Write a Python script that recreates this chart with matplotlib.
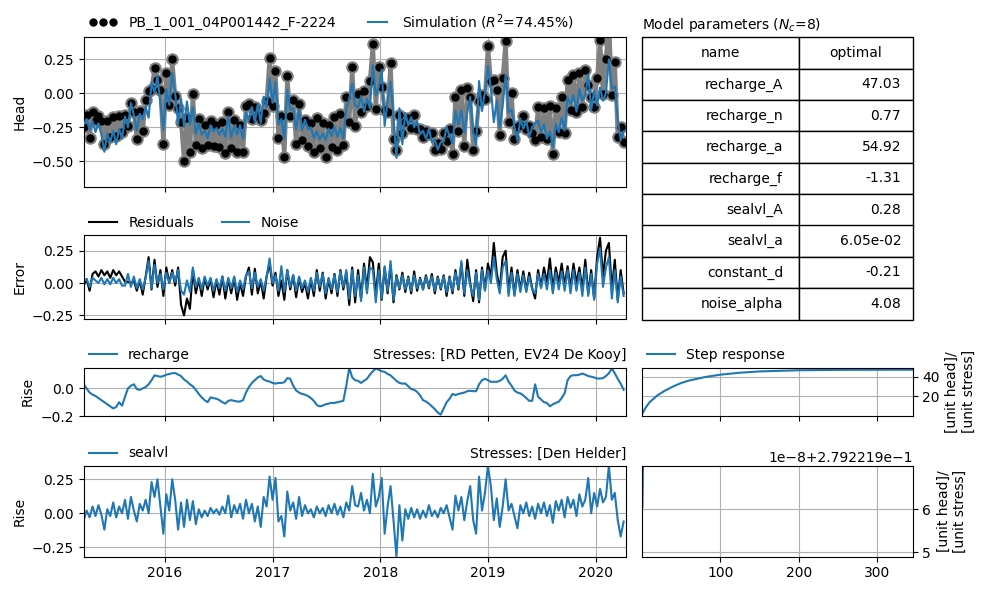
import numpy as np
import pandas as pd
import matplotlib
matplotlib.use('Agg')
import matplotlib.pyplot as plt
import matplotlib.dates as mdates
from matplotlib.ticker import MaxNLocator

# Contributions and errors, one value every 10 days from 2015-04-02
recharge = [0.03, 0.0, -0.03, -0.045, -0.055, -0.07, -0.085, -0.1, -0.115, -0.13,
            -0.145, -0.135, -0.1, -0.125, -0.06, 0.0, 0.02, 0.03, -0.005, -0.01,
            0.0, 0.01, 0.03, 0.06, 0.095, 0.09, 0.085, 0.09, 0.1, 0.105,
            0.11, 0.112, 0.1, 0.09, 0.065, 0.05, 0.03, 0.015, -0.01, -0.04,
            -0.065, -0.085, -0.1, -0.065, -0.07, -0.075, -0.085, -0.1, -0.11, -0.09,
            -0.085, -0.09, -0.095, -0.095, -0.085, -0.03, 0.01, 0.04, 0.06, 0.08,
            0.09, 0.065, 0.055, 0.05, 0.04, 0.035, 0.04, 0.04, 0.045, 0.075,
            0.07, 0.02, -0.015, -0.03, -0.04, -0.045, -0.055, -0.07, -0.09, -0.12,
            -0.13, -0.125, -0.115, -0.11, -0.105, -0.105, -0.1, -0.095, -0.09, 0.02,
            0.15, 0.08, 0.06,
            0.055, 0.04, 0.055, 0.07, 0.1, 0.125, 0.145, 0.135, 0.125, 0.12,
            0.105, 0.095, 0.075, 0.055, 0.04, 0.035, 0.036, 0.015, -0.005, -0.01,
            -0.025, -0.05, -0.085, -0.095, -0.11, -0.13, -0.15, -0.175, -0.19, -0.145,
            -0.1, -0.075, -0.04, -0.048, -0.04, -0.035, -0.03, -0.02, -0.017, -0.02,
            -0.02, 0.03, 0.06, 0.07, 0.06, 0.048, 0.048, 0.048, 0.055, 0.07,
            0.095, 0.05, 0.02, -0.015, -0.03, -0.036, -0.05, -0.07, -0.09, -0.09,
            0.03, -0.06, -0.08, -0.1, -0.105, -0.13, -0.115, -0.105, -0.096, -0.07,
            -0.035, 0.06, 0.09, 0.096, 0.096, 0.1, 0.108, 0.1, 0.09, 0.085,
            0.08, 0.072, 0.072, 0.075, 0.09, 0.11, 0.145, 0.11, 0.07, 0.035,
            -0.01]

sealvl = [-0.05, 0.02, -0.03, 0.05, -0.02, 0.06, -0.01, -0.12, 0.03, -0.02,
          0.08, -0.03, 0.05, 0.0, 0.1, -0.04, 0.12, 0.02, -0.06, 0.07,
          0.02, 0.1, 0.0, 0.23, 0.12, 0.25, 0.05, -0.15, 0.14, 0.02,
          0.25, 0.1, -0.12, 0.08, -0.1, 0.1, -0.05, 0.09, -0.08, 0.03,
          -0.03, 0.02, -0.02, 0.04, 0.0, 0.03, -0.01, 0.05, 0.0, 0.13,
          -0.03, 0.06, 0.0, 0.07, -0.04, 0.1, 0.0, 0.07, -0.06, 0.05,
          -0.1, 0.12, 0.05, 0.27, 0.1, 0.26, -0.06, -0.02, -0.17, 0.16,
          0.02, 0.08, -0.04, 0.12, -0.02, 0.06, 0.0, 0.03, -0.03, 0.05,
          0.0, 0.04, -0.02, 0.06, 0.0, 0.07, -0.01, 0.05, -0.03, 0.08,
          0.02, 0.2, 0.06,
          0.05, 0.15, 0.02, 0.1, 0.0, 0.29, 0.05, 0.12, 0.26, -0.15,
          0.05, 0.2, -0.05, -0.32, 0.06, -0.2, 0.03, -0.04, 0.04, -0.03,
          0.03, -0.04, 0.02, -0.03, 0.06, -0.02, 0.02, -0.03, 0.04, 0.0,
          0.06, -0.03, -0.12, 0.13, 0.02, 0.12, -0.05, 0.09, 0.2, -0.05,
          -0.15, 0.27, 0.02, 0.15, 0.35, 0.2, -0.05, 0.11, -0.1, 0.05,
          0.25, 0.02, 0.07, -0.02, -0.11, 0.06, 0.0, 0.08, -0.02, 0.05,
          -0.04, 0.07, 0.0, 0.08, -0.02, 0.06, -0.07, 0.09, 0.02, 0.1,
          -0.03, 0.12, 0.04, 0.1, -0.02, 0.14, 0.05, 0.1, 0.26, 0.0,
          0.15, 0.05, 0.18, 0.08, 0.12, 0.35, 0.1, 0.15, -0.05, -0.17,
          -0.06]

residuals = [-0.02, 0.03, -0.06, 0.07, 0.09, 0.05, 0.1, 0.06, 0.09, 0.04,
             0.1, 0.06, 0.09, 0.05, 0.01, 0.01, 0.0, 0.02, -0.06, 0.02,
             -0.09, 0.05, 0.2, -0.05, 0.18, -0.03, 0.1, -0.1, 0.12, 0.0,
             0.1, -0.02, 0.12, -0.17, -0.25, -0.12, -0.2, 0.1, -0.08, 0.03,
             -0.1, 0.04, -0.05, 0.03, -0.11, 0.02, -0.09, 0.05, -0.12, 0.03,
             -0.08, 0.04, -0.13, 0.0, -0.1, 0.05, 0.12, -0.09, 0.11, -0.08,
             0.02, -0.12, 0.05, 0.15, -0.02, 0.08, -0.1, 0.02, -0.13, 0.1,
             -0.05, 0.06, -0.11, 0.04, -0.07, 0.0, -0.12, 0.03, -0.1, 0.1,
             -0.06, 0.08, -0.12, 0.03, -0.08, 0.07, -0.1, 0.1, -0.05, 0.08,
             -0.17, 0.12, -0.15,
             0.1, -0.12, 0.15, -0.05, 0.2, 0.16, -0.1, 0.15, -0.13, 0.12,
             -0.08, 0.14, -0.15, 0.06, -0.05, 0.08, -0.07, 0.05, -0.08, 0.09,
             -0.06, 0.04, -0.05, 0.06, -0.04, 0.07, -0.08, 0.05, -0.05, 0.06,
             -0.1, 0.05, -0.08, 0.1, -0.05, 0.15, -0.1, 0.18, 0.0, -0.14,
             0.1, -0.15, 0.12, -0.05, 0.15, 0.05, 0.31, 0.08, -0.05, 0.2,
             0.25, -0.07, 0.12, -0.09, 0.1, -0.05, 0.09, -0.06, 0.08, -0.04,
             -0.12, 0.1, -0.03, 0.12, 0.0, 0.19, -0.05, 0.12, 0.0, 0.15,
             -0.02, 0.13, -0.04, 0.15, 0.0, 0.12, -0.05, 0.18, -0.08, 0.1,
             -0.12, 0.2, 0.35, 0.05, 0.25, 0.31, -0.05, 0.18, -0.13, 0.1,
             -0.08]

noise = [0.01, 0.03, -0.03, 0.04, 0.02, 0.0, 0.04, -0.01, 0.03, -0.01,
         0.04, 0.0, 0.03, -0.02, -0.02, 0.07, -0.03, 0.05, -0.04, 0.03,
         -0.05, 0.04, 0.17, -0.04, 0.14, 0.0, 0.07, -0.05, 0.08, 0.0,
         0.08, 0.01, 0.1, -0.06, -0.09, 0.02, -0.07, 0.12, -0.03, 0.04,
         -0.05, 0.05, -0.02, 0.04, -0.06, 0.03, -0.04, 0.05, -0.06, 0.04,
         -0.04, 0.05, -0.07, 0.02, -0.05, 0.06, 0.09, -0.04, 0.08, -0.03,
         0.03, -0.06, 0.05, 0.19, 0.0, 0.06, -0.06, 0.13, -0.07, 0.1,
         -0.03, 0.06, -0.06, 0.05, -0.04, 0.02, -0.07, 0.04, -0.06, 0.08,
         -0.03, 0.07, -0.08, 0.04, -0.05, 0.06, -0.07, 0.09, -0.03, 0.1,
         -0.12, 0.1, -0.1,
         0.06, -0.14, 0.12, -0.08, 0.12, 0.1, -0.15, 0.1, -0.12, 0.13,
         -0.06, 0.17, -0.13, 0.05, -0.04, 0.06, -0.05, 0.04, -0.06, 0.06,
         -0.04, 0.03, -0.05, 0.05, -0.03, 0.05, -0.06, 0.04, -0.04, 0.05,
         -0.07, 0.04, -0.06, 0.08, -0.04, 0.17, -0.08, 0.1, -0.02, -0.1,
         0.08, -0.13, 0.1, -0.06, 0.1, 0.0, 0.2, 0.03, -0.08, 0.12,
         0.17, -0.1, 0.08, -0.1, 0.07, -0.07, 0.06, -0.07, 0.05, -0.05,
         -0.08, 0.07, -0.04, 0.07, -0.05, 0.1, -0.08, 0.08, -0.05, 0.09,
         -0.06, 0.1, -0.08, 0.1, -0.06, 0.08, -0.1, 0.12, -0.1, 0.07,
         -0.13, 0.15, 0.27, -0.03, 0.12, 0.2, -0.12, 0.1, -0.15, 0.05,
         -0.1]

constant_d = -0.21
obs_name = 'PB_1_001_04P001442_F-2224'
r2 = 74.45

# Parameter table
param_names = ['recharge_A', 'recharge_n', 'recharge_a', 'recharge_f',
               'sealvl_A', 'sealvl_a', 'constant_d', 'noise_alpha']
param_values = ['47.03', '0.77', '54.92', '-1.31', '0.28', '6.05e-02', '-0.21', '4.08']

# Step responses
step_t = [1, 5, 10, 20, 30, 40, 50, 60, 80, 100, 125, 150, 200, 250, 300, 345]
step_rch = [2.8, 8.5, 14.0, 21.0, 26.0, 30.0, 33.5, 36.0, 39.5, 42.0, 44.0, 45.3,
            46.5, 46.9, 47.0, 47.03]
sl_base = 0.2792219
step_t_sl = [1, 2, 345]
step_sl = [sl_base + 6.05e-8, sl_base + 7.6e-8, sl_base + 7.6e-8]

dates = pd.date_range('2015-04-02', periods=len(recharge), freq='10D')
rch = np.array(recharge)
sl = np.array(sealvl)
res = np.array(residuals)
sim = rch + sl + constant_d
obs = sim + res

fig = plt.figure(figsize=(9.9, 5.9), dpi=100)
W, H = 990, 590


def rect(x0, y0, x1, y1):
    return [x0 / W, 1 - y1 / H, (x1 - x0) / W, (y1 - y0) / H]


ax1 = fig.add_axes(rect(83.7, 37.3, 626.3, 186.7))
ax2 = fig.add_axes(rect(83.7, 235.3, 626.3, 318.7), sharex=ax1)
ax3 = fig.add_axes(rect(83.7, 367.5, 626.3, 416), sharex=ax1)
ax4 = fig.add_axes(rect(83.7, 466, 626.3, 556.7), sharex=ax1)
axt = fig.add_axes(rect(641.7, 37.5, 912.5, 319.5))
ax5 = fig.add_axes(rect(641.7, 367.5, 912.5, 416))
ax6 = fig.add_axes(rect(641.7, 466, 912.5, 556.7), sharex=ax5)

# Head
ax1.plot(dates, obs, color='0.5', lw=3, marker='o', ms=8, zorder=2)
ax1.plot(dates, obs, ls='', marker='o', ms=5, color='k', label=obs_name, zorder=3)
ax1.plot(dates, sim, color='C0', label=f'Simulation ($R^2$={r2:.2f}%)', zorder=4)
ax1.set_ylim(-0.687, 0.412)
ax1.set_ylabel('Head')
ax1.legend(loc=(0, 1), ncol=3, frameon=False, numpoints=3)

# Error
ax2.plot(dates, res, color='k', label='Residuals')
ax2.plot(dates, noise, color='C0', label='Noise')
ax2.set_ylim(-0.276, 0.369)
ax2.set_ylabel('Error')
ax2.legend(loc=(0, 1), ncol=3, frameon=False)

# Contributions
ax3.plot(dates, rch, color='C0', label='recharge')
ax3.set_ylim(-0.2, 0.152)
ax3.set_yticks([-0.2, 0.0])
ax3.set_ylabel('Rise')
ax3.set_title('Stresses: [RD Petten, EV24 De Kooy]', loc='right', fontsize=10)
ax3.legend(loc=(0, 1), frameon=False)

ax4.plot(dates, sl, color='C0', label='sealvl')
ax4.set_ylim(-0.319, 0.348)
ax4.set_yticks([-0.25, 0.0, 0.25])
ax4.set_ylabel('Rise')
ax4.set_title('Stresses: [Den Helder]', loc='right', fontsize=10)
ax4.legend(loc=(0, 1), frameon=False)

ax4.xaxis.set_major_locator(mdates.YearLocator())
ax4.xaxis.set_major_formatter(mdates.DateFormatter('%Y'))
ax4.set_xlim(pd.Timestamp('2015-04-02'), pd.Timestamp('2020-04-14'))
for ax in [ax1, ax2, ax3, ax4]:
    ax.grid(True)
for ax in [ax1, ax2, ax3]:
    ax.tick_params(labelbottom=False)

# Table
axt.axis('off')
tab = axt.table(cellText=[[n, v] for n, v in zip(param_names, param_values)],
                colLabels=['name', 'optimal'], bbox=[0, 0, 1, 1],
                colWidths=[0.58, 0.42])
tab.auto_set_font_size(False)
tab.set_fontsize(10)
axt.set_title('Model parameters ($N_c$=8)', loc='left', fontsize=10)

# Step responses
ax5.plot(step_t, step_rch, color='C0', label='Step response')
ax5.legend(loc=(0, 1), frameon=False)
ax5.tick_params(labelbottom=False)
ax5.set_ylim(0.07, 49.3)
ax5.yaxis.set_major_locator(MaxNLocator(3))
ax6.plot(step_t_sl, step_sl, color='C0')
ax6.set_ylim(sl_base + 4.9e-8, sl_base + 7.0e-8)
ax6.set_yticks([sl_base + 5e-8, sl_base + 6e-8])
for ax in [ax5, ax6]:
    ax.yaxis.tick_right()
    ax.yaxis.set_label_position('right')
    ax.set_ylabel('[unit head]/\n[unit stress]')
    ax.grid(True)
ax6.set_xlim(0, 345)
ax6.set_xticks([100, 200, 300])

fig.savefig('out.png', dpi=100)
